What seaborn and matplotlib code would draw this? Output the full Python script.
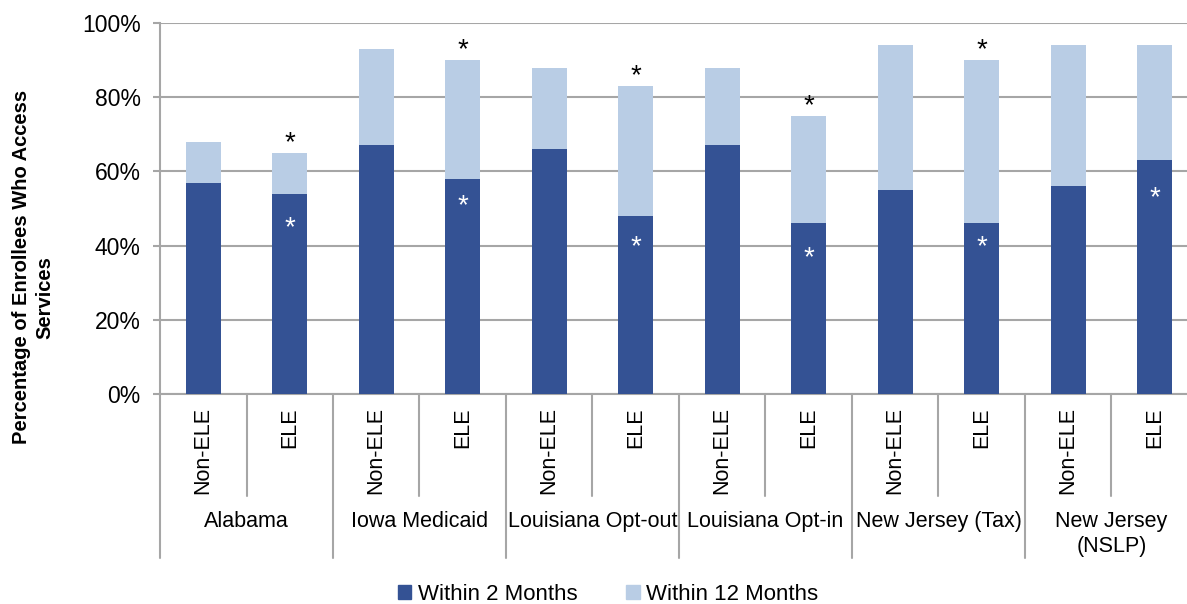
import pandas as pd
import numpy as np
import matplotlib.pyplot as plt
import seaborn as sns
from matplotlib.patches import Patch
from matplotlib.ticker import FuncFormatter

# datos (porcentajes)
groups = ['Alabama', 'Iowa Medicaid', 'Louisiana Opt-out', 'Louisiana Opt-in',
          'New Jersey (Tax)', 'New Jersey\n(NSLP)']
kinds = ['Non-ELE', 'ELE']
within_2 = [57, 54, 67, 58, 66, 48, 67, 46, 55, 46, 56, 63]
within_12 = [68, 65, 93, 90, 88, 83, 88, 75, 94, 90, 94, 94]
star_above = [False, True, False, True, False, True, False, True, False, True, False, False]
star_inside = [False, True, False, True, False, True, False, True, False, True, False, True]
inner_star_y = [None, 46, None, 52, None, 41, None, 38, None, 41, None, 54]

dark = '#345294'
light = '#B9CDE5'
grid_c = '#A6A6A6'

sns.set_style('white')
plt.rcParams['font.family'] = ['Liberation Sans', 'DejaVu Sans']
plt.rcParams['text.color'] = 'black'
plt.rcParams['ytick.labelcolor'] = 'black'

bars = [f'{g}|{k}' for g in groups for k in kinds]
df = pd.DataFrame({'bar': bars, 'w2': within_2, 'w12': within_12})

fig = plt.figure(figsize=(11.87, 6.04), dpi=100)
ax = fig.add_axes([160 / 1187, 1 - 394 / 604, 1038 / 1187, 371 / 604])

sns.barplot(data=df, x='bar', y='w12', order=bars, color=light, saturation=1,
            width=0.4, linewidth=0, ax=ax, zorder=3)
sns.barplot(data=df, x='bar', y='w2', order=bars, color=dark, saturation=1,
            width=0.4, linewidth=0, ax=ax, zorder=3)

ax.set_xlim(-0.5, len(bars) - 0.5)
ax.set_ylim(0, 100)
ax.set_yticks(range(0, 101, 20))
ax.yaxis.set_major_formatter(FuncFormatter(lambda v, p: f'{v:.0f}%'))
ax.tick_params(axis='y', length=5, width=1.5, color=grid_c, labelsize=16.5,
               labelcolor='black', pad=9, left=True)
ax.set_xticks([])
ax.set_xlabel('')
ax.set_ylabel('')
ax.grid(axis='y', color=grid_c, linewidth=1.5, zorder=0)
for s in ['top', 'right']:
    ax.spines[s].set_visible(False)
for s in ['left', 'bottom']:
    ax.spines[s].set_color(grid_c)
    ax.spines[s].set_linewidth(1.5)

# asteriscos
for i in range(len(bars)):
    if star_above[i]:
        ax.text(i, within_12[i] + 0.8, '*', ha='center', va='baseline',
                fontsize=20, color='black', zorder=4)
    if star_inside[i]:
        ax.text(i, inner_star_y[i] - 3.2, '*', ha='center', va='baseline',
                fontsize=20, color='white', zorder=4)

# eje de categorias en dos niveles
trans = ax.get_xaxis_transform()
for i, b in enumerate(bars):
    ax.text(i, -0.036, b.split('|')[1], rotation=90, ha='center', va='top',
            fontsize=15.5, transform=trans)
for j in range(len(bars) - 1):
    x = j + 0.5
    y_end = -0.275 if j % 2 == 0 else -0.442
    ax.plot([x, x], [0, y_end], color=grid_c, lw=1.5, transform=trans, clip_on=False)
ax.plot([-0.5, -0.5], [0, -0.442], color=grid_c, lw=1.5, transform=trans, clip_on=False)
for g_i, g in enumerate(groups):
    ax.text(2 * g_i + 0.5, -0.316, g, ha='center', va='top', fontsize=15.5,
            linespacing=1.25, transform=trans)

# etiqueta del eje y
fig.text(22 / 1187, 1 - 267 / 604, 'Percentage of Enrollees Who Access', rotation=90,
         ha='center', va='center', fontsize=14.5, fontweight='bold')
fig.text(45 / 1187, 1 - 298 / 604, 'Services', rotation=90,
         ha='center', va='center', fontsize=14.5, fontweight='bold')

handles = [Patch(color=dark, label='Within 2 Months'),
           Patch(color=light, label='Within 12 Months')]
fig.legend(handles=handles, loc='center', bbox_to_anchor=(608 / 1187, 10 / 604),
           ncol=2, frameon=False, fontsize=16, handlelength=0.6, handleheight=0.6,
           handletextpad=0.3, columnspacing=2.2)

fig.savefig('out.png', dpi=100)
